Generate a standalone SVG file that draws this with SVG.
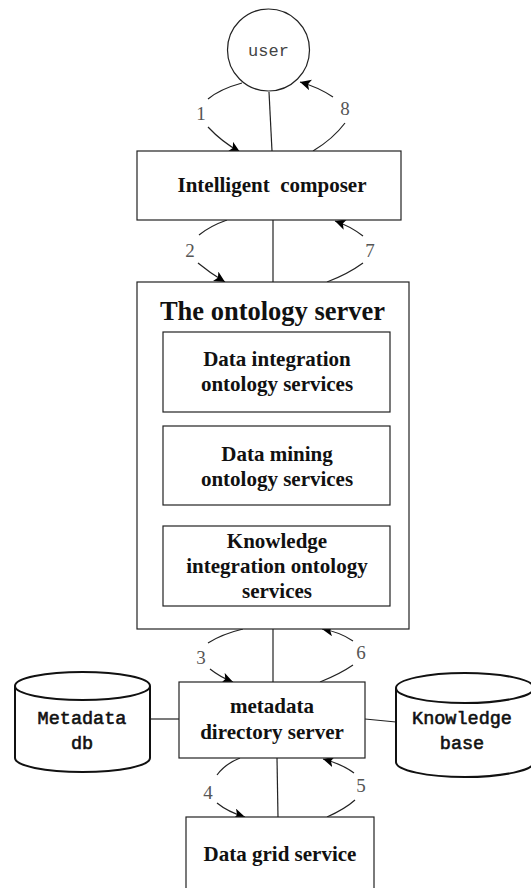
<svg xmlns="http://www.w3.org/2000/svg" width="531" height="888" viewBox="0 0 531 888">
<style>
.box{fill:#fff;stroke:#222;stroke-width:1.2}
.cyl{fill:#fff;stroke:#111;stroke-width:2}
.ln{fill:none;stroke:#222;stroke-width:1.2}
.arc{fill:none;stroke:#222;stroke-width:1.2}
.b{font-family:"Liberation Serif",serif;font-weight:bold;font-size:21px;fill:#111;text-anchor:middle}
.num{font-family:"Liberation Serif",serif;font-size:19px;fill:#555;text-anchor:middle}
.mono{font-family:"Liberation Mono",monospace;font-size:18.5px;fill:#111;stroke:#111;stroke-width:0.6;text-anchor:middle}
</style>
<defs>
<marker id="ah" viewBox="0 0 10 10" refX="10" refY="5" markerWidth="11" markerHeight="11" markerUnits="userSpaceOnUse" orient="auto">
<path d="M0,0 L10,5 L0,10 L2.5,5 Z" fill="#000"/>
</marker>
</defs>
<rect width="531" height="888" fill="#fff"/>
<g id="connectors">
<line class="ln" x1="269" y1="92" x2="272" y2="151"/>
<line class="ln" x1="273" y1="220" x2="273" y2="282"/>
<line class="ln" x1="277" y1="412" x2="277" y2="426"/>
<line class="ln" x1="277" y1="505" x2="277" y2="526"/>
<line class="ln" x1="273" y1="629" x2="273" y2="682"/>
<line class="ln" x1="277" y1="758" x2="278" y2="817"/>
<line class="ln" x1="150" y1="719" x2="179" y2="719"/>
<line class="ln" x1="365" y1="719" x2="396" y2="722"/>
<path class="arc" d="M242,83 Q220,89 208,99"/>
<path class="arc" d="M208,127 Q222,142 240,152" marker-end="url(#ah)"/>
<path class="arc" d="M313,151 Q333,139 345,123"/>
<path class="arc" d="M333,97 Q318,87 300,82" marker-end="url(#ah)"/>
<path class="arc" d="M227,220 Q210,226 199,235"/>
<path class="arc" d="M198,263 Q210,273 225,282" marker-end="url(#ah)"/>
<path class="arc" d="M327,282 Q348,274 363,263"/>
<path class="arc" d="M363,236 Q350,226 335,221" marker-end="url(#ah)"/>
<path class="arc" d="M243,629 Q222,634 208,643"/>
<path class="arc" d="M210,669 Q220,677 233,682" marker-end="url(#ah)"/>
<path class="arc" d="M320,682 Q340,674 353,665"/>
<path class="arc" d="M353,641 Q340,632 322,629" marker-end="url(#ah)"/>
<path class="arc" d="M240,758 Q225,764 217,775"/>
<path class="arc" d="M217,803 Q228,812 245,817" marker-end="url(#ah)"/>
<path class="arc" d="M327,817 Q345,809 355,800"/>
<path class="arc" d="M354,773 Q342,764 323,759" marker-end="url(#ah)"/>
<text class="num" x="201" y="120">1</text>
<text class="num" x="345" y="115">8</text>
<text class="num" x="190" y="257">2</text>
<text class="num" x="370" y="257">7</text>
<text class="num" x="201" y="664">3</text>
<text class="num" x="361" y="659">6</text>
<text class="num" x="208" y="799">4</text>
<text class="num" x="361" y="792">5</text>
</g>
<g id="user">
<circle cx="268.5" cy="50" r="41" fill="#fff" stroke="#222" stroke-width="1.2"/>
<text x="268.5" y="56" style="font-family:'Liberation Mono',monospace;font-size:17px;fill:#444;text-anchor:middle">user</text>
</g>
<g id="composer">
<rect class="box" x="137" y="151" width="264" height="69"/>
<text class="b" x="272" y="192" xml:space="preserve">Intelligent  composer</text>
</g>
<g id="ontology-server">
<rect class="box" x="137" y="282" width="272" height="347"/>
<text class="b" x="272.5" y="320" style="font-size:26.5px">The ontology server</text>
</g>
<g id="data-integration">
<rect class="box" x="163" y="332" width="227" height="80"/>
<text class="b" x="277" y="366">Data integration</text>
<text class="b" x="277" y="391">ontology services</text>
</g>
<g id="data-mining">
<rect class="box" x="163" y="426" width="227" height="79"/>
<text class="b" x="277" y="461">Data mining</text>
<text class="b" x="277" y="486">ontology services</text>
</g>
<g id="knowledge-integration">
<rect class="box" x="163" y="526" width="227" height="80"/>
<text class="b" x="277" y="548">Knowledge</text>
<text class="b" x="277" y="573">integration ontology</text>
<text class="b" x="277" y="598">services</text>
</g>
<g id="metadata-directory">
<rect class="box" x="179" y="682" width="186" height="76"/>
<text class="b" x="272" y="713">metadata</text>
<text class="b" x="272" y="739">directory server</text>
</g>
<g id="metadata-db">
<path class="cyl" d="M15,686 L15,758 A67.5,14 0 0 0 150,758 L150,686"/>
<ellipse class="cyl" cx="82.5" cy="686" rx="67.5" ry="14"/>
<text class="mono" x="82" y="724">Metadata</text>
<text class="mono" x="82" y="749">db</text>
</g>
<g id="knowledge-base">
<path class="cyl" d="M396,688 L396,762 A69,15 0 0 0 534,762 L534,688"/>
<ellipse class="cyl" cx="465" cy="688" rx="69" ry="15"/>
<text class="mono" x="462" y="724">Knowledge</text>
<text class="mono" x="462" y="749">base</text>
</g>
<g id="data-grid">
<rect class="box" x="186" y="817" width="188" height="80"/>
<text class="b" x="280" y="861">Data grid service</text>
</g>
</svg>
